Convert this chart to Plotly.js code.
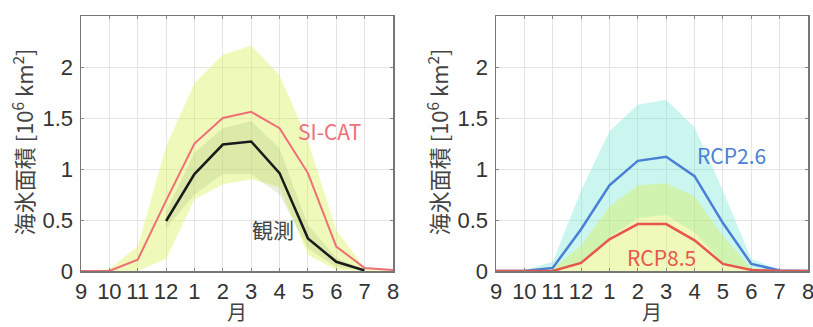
<!DOCTYPE html>
<html><head><meta charset="utf-8">
<script src="https://cdn.plot.ly/plotly-3.0.1.min.js"></script>
<style>html,body{margin:0;padding:0;background:#fff}#c{width:813px;height:327px}</style>
</head><body><div id="c"></div>
<script>
// month positions 0..11 correspond to Sep..Aug
const monthIdx = [0,1,2,3,4,5,6,7,8,9,10,11];
const monthLabels = ['9','10','11','12','1','2','3','4','5','6','7','8'];
const yTickVals = [0,0.5,1,1.5,2];
const yTickText = ['0','0.5','1','1.5','2'];

// Left panel: SI-CAT hindcast and observations
const sicatMean  = [0, 0, 0.11, 0.69, 1.25, 1.50, 1.56, 1.40, 0.96, 0.24, 0.03, 0.01];
const sicatUpper = [0, 0.02, 0.24, 1.22, 1.84, 2.12, 2.21, 1.92, 1.28, 0.40, 0.03, 0.01];
const sicatLower = [0, 0, 0, 0.12, 0.70, 0.85, 0.90, 0.82, 0.16, 0.01, 0, 0];
const obsIdx   = [3,4,5,6,7,8,9,10];
const obsMean  = [0.49, 0.95, 1.24, 1.27, 0.96, 0.32, 0.09, 0.005];
const obsUpper = [0.58, 1.16, 1.40, 1.47, 1.20, 0.45, 0.13, 0.01];
const obsLower = [0.42, 0.75, 0.95, 0.95, 0.75, 0.22, 0.04, 0];

// Right panel: future projections
const rcp26Mean  = [0, 0, 0.03, 0.41, 0.84, 1.08, 1.12, 0.93, 0.47, 0.07, 0.005, 0];
const rcp26Upper = [0, 0.01, 0.09, 0.79, 1.37, 1.63, 1.68, 1.41, 0.79, 0.12, 0.01, 0];
const rcp26Lower = [0, 0, 0, 0.08, 0.33, 0.52, 0.55, 0.38, 0.08, 0, 0, 0];
const rcp85Mean  = [0, 0, 0, 0.08, 0.31, 0.46, 0.46, 0.30, 0.07, 0.01, 0, 0];
const rcp85Upper = [0, 0, 0.02, 0.25, 0.63, 0.84, 0.86, 0.73, 0.34, 0.03, 0, 0];
const rcp85Lower = [0, 0, 0, 0, 0, 0, 0, 0, 0, 0, 0, 0];

function band(xs, lo, hi, color, xa, ya){
  return {x: xs.concat(xs.slice().reverse()), y: hi.concat(lo.slice().reverse()),
    type:'scatter', mode:'lines', fill:'toself', fillcolor: color,
    line:{width:0, color:'rgba(0,0,0,0)'}, hoverinfo:'skip', showlegend:false, xaxis:xa, yaxis:ya};
}
function line(xs, ys, color, w, xa, ya){
  return {x: xs, y: ys, type:'scatter', mode:'lines', line:{color:color, width:w},
    showlegend:false, xaxis:xa, yaxis:ya};
}

const yellow = 'rgba(215,240,80,0.40)';
const traces = [
  band(monthIdx, sicatLower, sicatUpper, yellow, 'x', 'y'),
  band(obsIdx, obsLower, obsUpper, 'rgba(165,195,125,0.26)', 'x', 'y'),
  line(monthIdx, sicatMean, '#ef6f77', 2, 'x', 'y'),
  line(obsIdx, obsMean, '#1a1a1a', 2.5, 'x', 'y'),
  band(monthIdx, rcp26Lower, rcp26Upper, 'rgba(110,230,210,0.36)', 'x2', 'y2'),
  band(monthIdx, rcp85Lower, rcp85Upper, yellow, 'x2', 'y2'),
  line(monthIdx, rcp26Mean, '#4a7fd6', 2.5, 'x2', 'y2'),
  line(monthIdx, rcp85Mean, '#e8564f', 2.5, 'x2', 'y2')
];

const tickFont = {family:'Liberation Sans, Arial, sans-serif', size:22, color:'#333'};
function xax(dom, anchor){
  return {domain: dom, anchor: anchor, range:[0,11], tickvals: monthIdx, ticktext: monthLabels,
    tickfont: tickFont, showgrid:true, gridcolor:'#e4e4e4', gridwidth:1, zeroline:false,
    showline:true, linecolor:'#777', linewidth:1.5, mirror:'ticks', ticks:'inside', ticklen:3,
    tickcolor:'#888', ticklabeloverflow:'allow', fixedrange:true};
}
function yax(anchor){
  return {domain:[0,1], anchor: anchor, range:[0,2.5], tickvals: yTickVals, ticktext: yTickText,
    tickfont: tickFont, showgrid:true, gridcolor:'#e4e4e4', gridwidth:1, zeroline:false,
    showline:true, linecolor:'#777', linewidth:1.5, mirror:'ticks', ticks:'inside', ticklen:3,
    tickcolor:'#888', ticklabelstandoff: 2, ticklabeloverflow:'allow', fixedrange:true};
}

const W = 813;
const titleFont = {family:'Noto Sans CJK JP, sans-serif', size:22, color:'#444'};
const xTitleFont = {family:'Noto Sans CJK JP, sans-serif', size:20, color:'#444'};
const yTitle = '海氷面積 [10<sup>6</sup> km<sup>2</sup>]';
const labelFont = c => ({family:'Noto Sans CJK JP, sans-serif', size:21, color:c});
const layout = {
  width: W, height: 327, margin:{l:0, r:0, t:16, b:56},
  paper_bgcolor:'#fff', plot_bgcolor:'#fff', showlegend:false,
  xaxis: xax([81/W, 393/W], 'y'),
  yaxis: yax('x'),
  xaxis2: xax([496/W, 808/W], 'y2'),
  yaxis2: yax('x2'),
  annotations: [
    {xref:'paper', yref:'paper', x:22/W, y:0.505, text:yTitle, textangle:-90, showarrow:false, font:titleFont, xanchor:'center', yanchor:'middle'},
    {xref:'paper', yref:'paper', x:437/W, y:0.505, text:yTitle, textangle:-90, showarrow:false, font:titleFont, xanchor:'center', yanchor:'middle'},
    {xref:'paper', yref:'paper', x:237/W, y:-0.158, text:'月', showarrow:false, font:xTitleFont, xanchor:'center', yanchor:'middle'},
    {xref:'paper', yref:'paper', x:652/W, y:-0.158, text:'月', showarrow:false, font:xTitleFont, xanchor:'center', yanchor:'middle'},
    {xref:'x', yref:'y', x:8.75, y:1.37, text:'SI-CAT', showarrow:false, font:labelFont('#ef6f77')},
    {xref:'x', yref:'y', x:6.77, y:0.41, text:'観測', showarrow:false, font:labelFont('#444')},
    {xref:'x2', yref:'y2', x:8.29, y:1.14, text:'RCP2.6', showarrow:false, font:labelFont('#4a7fd6')},
    {xref:'x2', yref:'y2', x:5.83, y:0.14, text:'RCP8.5', showarrow:false, font:labelFont('#e8564f')}
  ]
};
Plotly.newPlot('c', traces, layout, {staticPlot:true, displayModeBar:false});
</script></body></html>
